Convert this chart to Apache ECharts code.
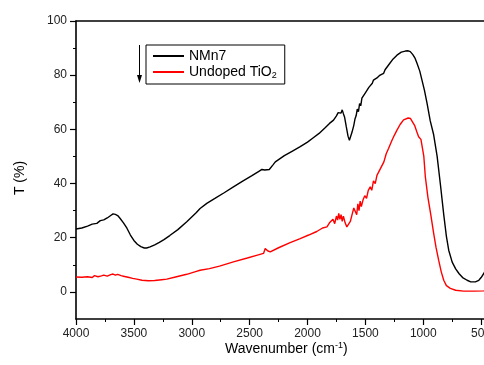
<!DOCTYPE html>
<html>
<head>
<meta charset="utf-8">
<script src="https://cdn.jsdelivr.net/npm/echarts@6/dist/echarts.min.js"></script>
<style>
  html, body { margin: 0; padding: 0; background: #fff; }
  #chart { width: 484px; height: 365px; }
</style>
</head>
<body>
<div id="chart"></div>
<script>
// NMn7 spectrum (wavenumber, %T)
const nmnX = [4000, 3950, 3900, 3860, 3820, 3790, 3760, 3730, 3700, 3680, 3660, 3640, 3620, 3590, 3560, 3530, 3500, 3470, 3440, 3410, 3390, 3360, 3320, 3280, 3240, 3190, 3120, 3043, 2960, 2928, 2870, 2800, 2720, 2640, 2560, 2480, 2420, 2394, 2370, 2355, 2330, 2300, 2278, 2200, 2130, 2063, 2000, 1950, 1900, 1850, 1810, 1775, 1750, 1735, 1720, 1710, 1700, 1690, 1680, 1665, 1650, 1638, 1628, 1615, 1600, 1590, 1580, 1570, 1560, 1550, 1540, 1530, 1515, 1500, 1490, 1470, 1455, 1440, 1430, 1415, 1400, 1380, 1360, 1342, 1330, 1313, 1290, 1260, 1227, 1190, 1155, 1130, 1112, 1090, 1070, 1054, 1030, 1011, 990, 967, 940, 910, 880, 850, 823, 800, 780, 750, 720, 690, 660, 621, 590, 577, 550, 520, 500, 477, 460];
const nmnY = [23.2, 23.6, 24.3, 25.0, 25.3, 26.3, 26.6, 27.3, 28.2, 28.8, 28.6, 28.2, 27.2, 25.5, 23.5, 21.0, 19.0, 17.6, 16.7, 16.2, 16.2, 16.6, 17.4, 18.3, 19.3, 20.8, 23.0, 25.9, 29.3, 30.8, 32.7, 34.5, 36.6, 38.8, 40.9, 42.9, 44.5, 45.2, 45.0, 44.6, 45.2, 46.8, 48.0, 50.3, 52.0, 53.6, 55.3, 56.9, 58.5, 60.5, 62.2, 63.4, 65.0, 66.2, 66.9, 66.0, 67.2, 65.8, 64.6, 61.0, 57.5, 56.0, 56.6, 59.0, 61.5, 63.8, 65.0, 67.5, 66.5, 69.5, 68.7, 71.5, 72.0, 73.5, 72.8, 75.5, 75.0, 77.0, 78.2, 77.8, 79.0, 79.8, 80.3, 80.7, 82.0, 82.7, 84.3, 86.0, 87.4, 88.5, 88.9, 89.0, 88.7, 87.6, 86.2, 84.4, 81.5, 78.2, 74.5, 69.6, 63.2, 58.0, 50.0, 39.0, 28.5, 20.5, 15.4, 11.0, 8.5, 6.7, 5.3, 4.3, 3.7, 3.5, 3.7, 4.3, 5.3, 6.8, 8.2];

// Undoped TiO2 spectrum
const tioX = [4000, 3950, 3900, 3860, 3840, 3810, 3780, 3760, 3730, 3700, 3680, 3660, 3640, 3610, 3590, 3550, 3510, 3475, 3430, 3374, 3320, 3260, 3216, 3140, 3043, 2960, 2928, 2847, 2760, 2640, 2520, 2440, 2380, 2365, 2357, 2345, 2330, 2322, 2250, 2150, 2063, 1990, 1920, 1870, 1832, 1810, 1795, 1780, 1765, 1750, 1740, 1730, 1720, 1710, 1700, 1690, 1675, 1660, 1645, 1630, 1615, 1600, 1587, 1575, 1565, 1555, 1545, 1535, 1520, 1505, 1490, 1475, 1458, 1445, 1430, 1415, 1400, 1385, 1370, 1357, 1340, 1320, 1299, 1270, 1250, 1227, 1200, 1170, 1155, 1130, 1110, 1097, 1075, 1055, 1040, 1020, 1011, 995, 982, 960, 935, 910, 890, 867, 845, 823, 800, 766, 720, 651, 560, 477, 460];
const tioY = [5.5, 5.4, 5.6, 5.3, 6.0, 5.6, 5.9, 6.2, 5.8, 6.4, 6.6, 6.2, 6.5, 6.0, 5.8, 5.4, 5.0, 4.7, 4.3, 4.1, 4.2, 4.5, 4.7, 5.5, 6.5, 7.6, 8.0, 8.6, 9.5, 11.1, 12.5, 13.5, 14.2, 16.0, 16.4, 15.2, 15.4, 14.8, 16.3, 18.2, 19.7, 21.0, 22.3, 23.6, 24.0, 25.5, 24.8, 26.8, 25.2, 28.0, 26.5, 29.0, 26.8, 28.5, 26.0, 28.0, 25.5, 24.0, 24.2, 26.0, 28.5, 31.0, 30.8, 28.5, 32.5, 30.0, 33.5, 31.5, 34.0, 35.5, 34.5, 37.5, 38.8, 37.5, 41.0, 40.0, 43.0, 42.5, 45.5, 46.2, 48.0, 51.0, 53.0, 56.0, 57.8, 59.7, 61.8, 63.5, 64.1, 64.2, 64.0, 63.7, 61.5, 59.0, 57.3, 56.3, 56.0, 50.0, 42.5, 35.0, 28.5, 21.6, 16.5, 11.7, 7.5, 4.3, 2.3, 1.3, 0.6, 0.3, 0.3, 0.4, 0.5];

const seriesNames = ['NMn7', 'Undoped TiO2'];
const yMajor = [0, 20, 40, 60, 80, 100];
const yMinor = [10, 30, 50, 70, 90];

const font = 'Arial, "Liberation Sans", sans-serif';

function pairs(xs, ys) {
  return xs.map((x, i) => [x, ys[i]]);
}

const chart = echarts.init(document.getElementById('chart'), null, { renderer: 'canvas' });

// plot area: 4000 sits at x=76, 500 per 57.8px, so 0 lands past the right edge
const gridLeft = 76;
const gridRight = -55;
const gridWidth = 484 - gridLeft - gridRight;

const option = {
  animation: false,
  backgroundColor: '#fff',
  textStyle: { fontFamily: font },
  grid: { left: gridLeft, top: 21, bottom: 46, right: gridRight, outerBoundsMode: 'none', containLabel: false },
  legend: {
    left: 146,
    top: 45,
    orient: 'vertical',
    data: seriesNames,
    icon: 'rect',
    itemWidth: 31,
    itemHeight: 2,
    itemGap: 2,
    padding: [4, 8, 4, 7],
    borderColor: '#000',
    borderWidth: 1,
    formatter: name => name === 'Undoped TiO2' ? 'Undoped TiO{sub|2}' : name,
    textStyle: {
      fontSize: 14,
      color: '#000',
      fontFamily: font,
      rich: { sub: { fontSize: 9, padding: [7, 0, 0, 0], fontFamily: font } }
    }
  },
  xAxis: [{
    type: 'value',
    min: 0,
    max: 4000,
    interval: 500,
    inverse: true,
    position: 'bottom',
    axisLine: { onZero: false, lineStyle: { color: '#000', width: 1.6 } },
    axisTick: { length: 6, lineStyle: { color: '#000', width: 1.2 } },
    minorTick: { show: true, splitNumber: 2, length: 3, lineStyle: { color: '#000', width: 1 } },
    axisLabel: { fontSize: 12, color: '#222', margin: 9, fontFamily: font, formatter: v => String(v) },
    splitLine: { show: false }
  }, {
    type: 'value',
    min: 0,
    max: 4000,
    inverse: true,
    position: 'top',
    axisLine: { onZero: false, lineStyle: { color: '#000', width: 1.6 } },
    axisTick: { show: false },
    axisLabel: { show: false },
    splitLine: { show: false }
  }],
  yAxis: [{
    type: 'value',
    min: -10,
    max: 100,
    position: 'left',
    axisLine: { show: true, onZero: false, lineStyle: { color: '#000', width: 1.6 } },
    axisTick: { show: true, length: 6, customValues: yMajor, lineStyle: { color: '#000', width: 1.2 } },
    axisLabel: { customValues: yMajor, fontSize: 12, color: '#222', margin: 9, fontFamily: font },
    splitLine: { show: false }
  }, {
    // minor ticks: a right axis pulled back onto the left edge
    type: 'value',
    min: -10,
    max: 100,
    position: 'right',
    offset: -gridWidth,
    axisLine: { show: false, onZero: false },
    axisTick: { show: true, inside: true, length: 3, customValues: yMinor, lineStyle: { color: '#000', width: 1 } },
    axisLabel: { show: false },
    splitLine: { show: false }
  }],
  series: [{
    name: seriesNames[0],
    type: 'line',
    data: pairs(nmnX, nmnY),
    showSymbol: false,
    lineStyle: { color: '#000', width: 1.4 },
    itemStyle: { color: '#000' }
  }, {
    name: seriesNames[1],
    type: 'line',
    data: pairs(tioX, tioY),
    showSymbol: false,
    lineStyle: { color: '#ff0000', width: 1.4 },
    itemStyle: { color: '#ff0000' }
  }],
  graphic: [{
    // arrow left of the legend
    type: 'line',
    shape: { x1: 139.5, y1: 45, x2: 139.5, y2: 77 },
    style: { stroke: '#000', lineWidth: 1 }
  }, {
    type: 'polygon',
    shape: { points: [[137, 75], [142, 75], [139.5, 83]] },
    style: { fill: '#000' }
  }, {
    type: 'text',
    left: 225,
    top: 341,
    style: {
      text: 'Wavenumber (cm{sup|-1})',
      fontSize: 14,
      fontFamily: font,
      fill: '#000',
      rich: { sup: { fontSize: 9, padding: [0, 0, 7, 0], fontFamily: font } }
    }
  }, {
    type: 'text',
    x: 20,
    y: 178,
    rotation: Math.PI / 2,
    style: {
      text: 'T (%)',
      fontSize: 14,
      fontFamily: font,
      fill: '#000',
      align: 'center',
      verticalAlign: 'middle'
    }
  }]
};

chart.setOption(option);
</script>
</body>
</html>
